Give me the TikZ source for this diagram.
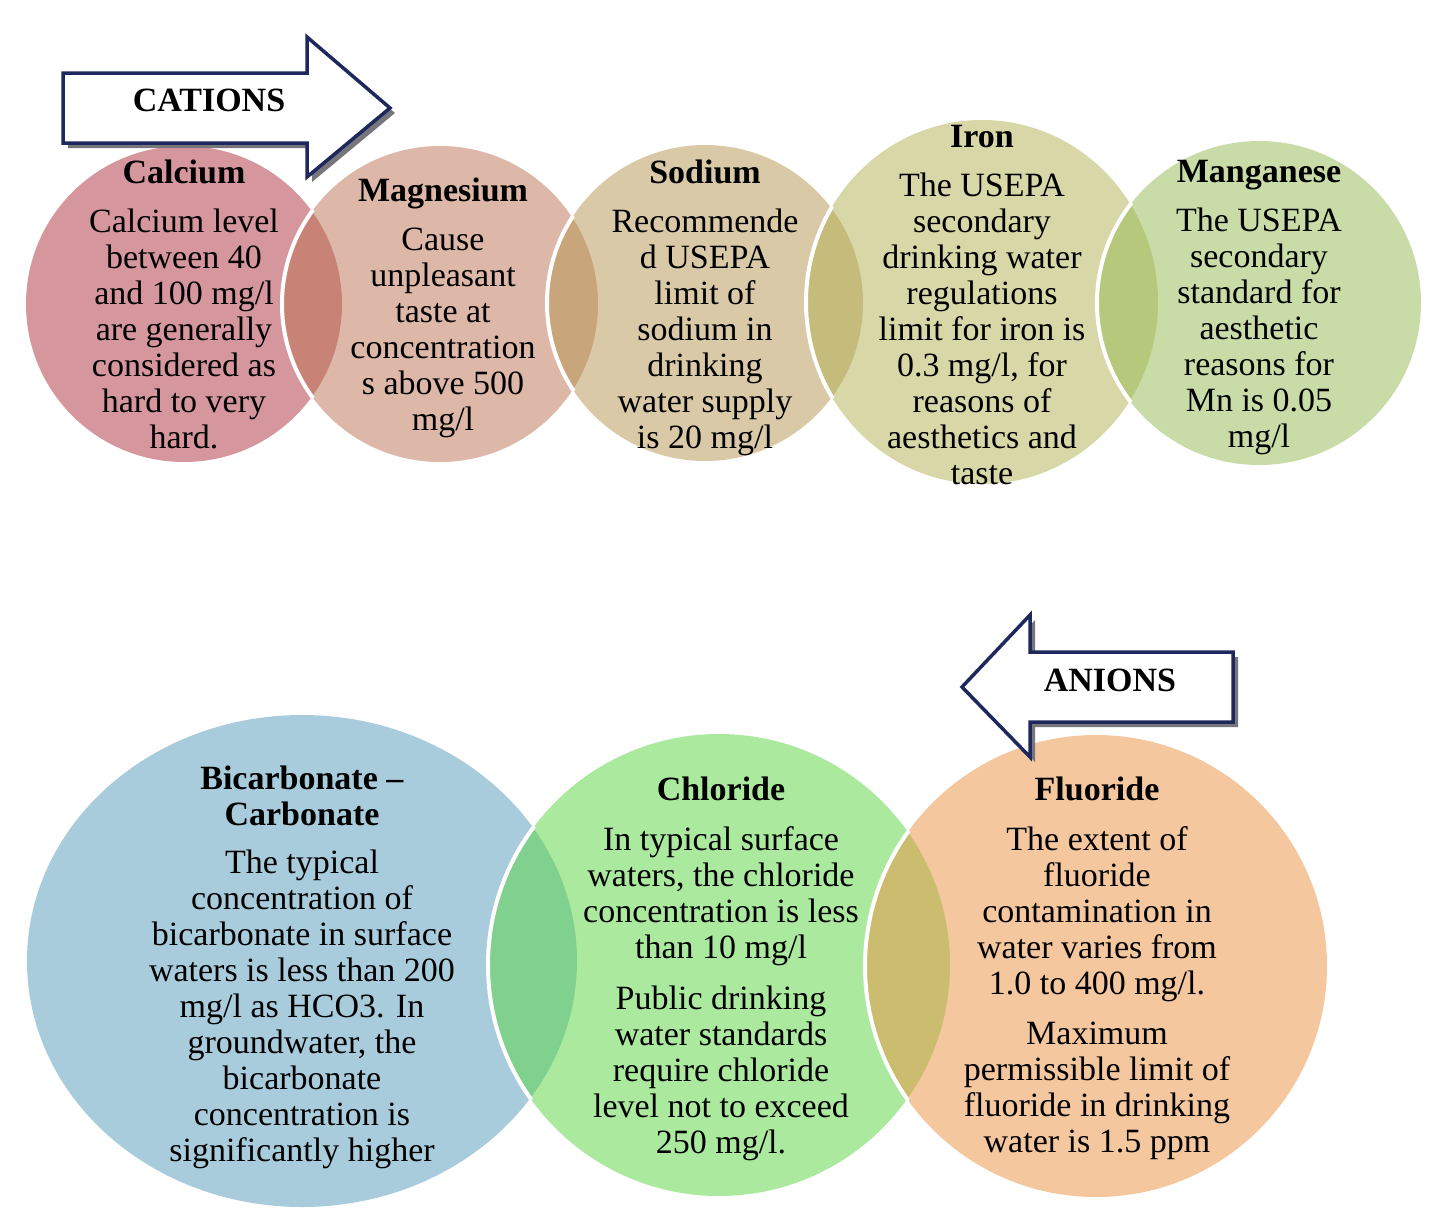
\documentclass[tikz,border=0pt]{standalone}
\usepackage{fontspec}
\setmainfont{Liberation Serif}
\definecolor{cCa}{RGB}{173,49,61}
\definecolor{cMg}{RGB}{189,113,81}
\definecolor{cNa}{RGB}{181,149,81}
\definecolor{cFe}{RGB}{179,177,81}
\definecolor{cMn}{RGB}{149,187,81}
\definecolor{cHCO}{RGB}{85,155,189}
\definecolor{cCl}{RGB}{89,213,65}
\definecolor{cF}{RGB}{235,145,65}
\definecolor{navy}{RGB}{31,40,92}
\definecolor{shadowgray}{RGB}{118,118,124}
\begin{document}
\begin{tikzpicture}[x=1pt,y=-1pt,
  bubble/.style={fill opacity=0.5},
  rim/.style={draw=white,line width=4pt},
  txt/.style={align=center,inner sep=0pt,anchor=north,text=black,font=\fontsize{34}{36}\selectfont},
  arrowbox/.style={draw=navy,line width=3.5pt,fill=white,line join=miter},
  arrowshadow/.style={fill=shadowgray},
  arrowlabel/.style={inner sep=0pt,font=\fontsize{34}{36}\selectfont\bfseries}]
\useasboundingbox (0,0) rectangle (1449,1211);
\fill[white] (0,0) rectangle (1449,1211);

% ---- top row fills ----
\fill[cCa,bubble] (184,304) circle[radius=158pt];
\fill[cMg,bubble] (440,304) circle[radius=158pt];
\fill[cNa,bubble] (705,303) circle[radius=158pt];
\fill[cFe,bubble] (982,302) circle[x radius=176pt,y radius=182pt];
\fill[cMn,bubble] (1259,303) circle[radius=162pt];
% ---- top row white rims (visible part inside the previous bubble) ----
\begin{scope}\clip (184,304) circle[radius=160pt];
  \draw[rim] (440,304) circle[radius=158pt];\end{scope}
\begin{scope}\clip (440,304) circle[radius=160pt];
  \draw[rim] (705,303) circle[radius=158pt];\end{scope}
\begin{scope}\clip (705,303) circle[radius=160pt];
  \draw[rim] (982,302) circle[x radius=176pt,y radius=182pt];\end{scope}
\begin{scope}\clip (982,302) circle[x radius=178pt,y radius=184pt];
  \draw[rim] (1259,303) circle[radius=162pt];\end{scope}

% ---- bottom row fills ----
\fill[cHCO,bubble] (302,961) circle[x radius=275pt,y radius=246pt];
\fill[cCl,bubble] (719,965) circle[radius=231pt];
\fill[cF,bubble] (1096,966) circle[radius=231pt];
\begin{scope}\clip (302,961) circle[x radius=277pt,y radius=248pt];
  \draw[rim] (719,965) circle[radius=231pt];\end{scope}
\begin{scope}\clip (719,965) circle[radius=233pt];
  \draw[rim] (1096,966) circle[radius=231pt];\end{scope}

% ---- texts ----
\node[txt] (calcium) at (184,160) {\textbf{Calcium}\\[13pt]Calcium level\\between 40\\and 100 mg/l\\are generally\\considered as\\hard to very\\hard.};
\node[txt] (magnesium) at (443,178) {\textbf{Magnesium}\\[13pt]Cause\\unpleasant\\taste at\\concentration\\s above 500\\mg/l};
\node[txt] (sodium) at (705,160) {\textbf{Sodium}\\[13pt]Recommende\\d USEPA\\limit of\\sodium in\\drinking\\water supply\\is 20 mg/l};
\node[txt] (iron) at (982,125) {\textbf{Iron}\\[13pt]The USEPA\\secondary\\drinking water\\regulations\\limit for iron is\\0.3 mg/l, for\\reasons of\\aesthetics and\\taste};
\node[txt] (manganese) at (1259,160) {\textbf{Manganese}\\[13pt]The USEPA\\secondary\\standard for\\aesthetic\\reasons for\\Mn is 0.05\\mg/l};
\node[txt] (bicarbonate) at (302,766) {\textbf{Bicarbonate –}\\\textbf{Carbonate}\\[12pt]The typical\\concentration of\\bicarbonate in surface\\waters is less than 200\\mg/l as HCO3. In\\groundwater, the\\bicarbonate\\concentration is\\significantly higher};
\node[txt] (chloride) at (721,777) {\textbf{Chloride}\\[14pt]In typical surface\\waters, the chloride\\concentration is less\\than 10 mg/l\\[15pt]Public drinking\\water standards\\require chloride\\level not to exceed\\250 mg/l.};
\node[txt] (fluoride) at (1097,777) {\textbf{Fluoride}\\[14pt]The extent of\\fluoride\\contamination in\\water varies from\\1.0 to 400 mg/l.\\[14pt]Maximum\\permissible limit of\\fluoride in drinking\\water is 1.5 ppm};

% ---- CATIONS arrow ----
\fill[arrowshadow,shift={(5pt,-5pt)}] (63,73) -- (307,73) -- (307,37) -- (390,108) -- (307,177) -- (307,143) -- (63,143) -- cycle;
\draw[arrowbox] (63,73) -- (307,73) -- (307,37) -- (390,108) -- (307,177) -- (307,143) -- (63,143) -- cycle;
\node[arrowlabel] (cations) at (209,100) {CATIONS};

% ---- ANIONS arrow ----
\fill[arrowshadow,shift={(5pt,-5pt)}] (962,687) -- (1030,615) -- (1030,652) -- (1233,652) -- (1233,722) -- (1030,722) -- (1030,757) -- cycle;
\draw[arrowbox] (962,687) -- (1030,615) -- (1030,652) -- (1233,652) -- (1233,722) -- (1030,722) -- (1030,757) -- cycle;
\node[arrowlabel] (anions) at (1110,680) {ANIONS};
\end{tikzpicture}
\end{document}
